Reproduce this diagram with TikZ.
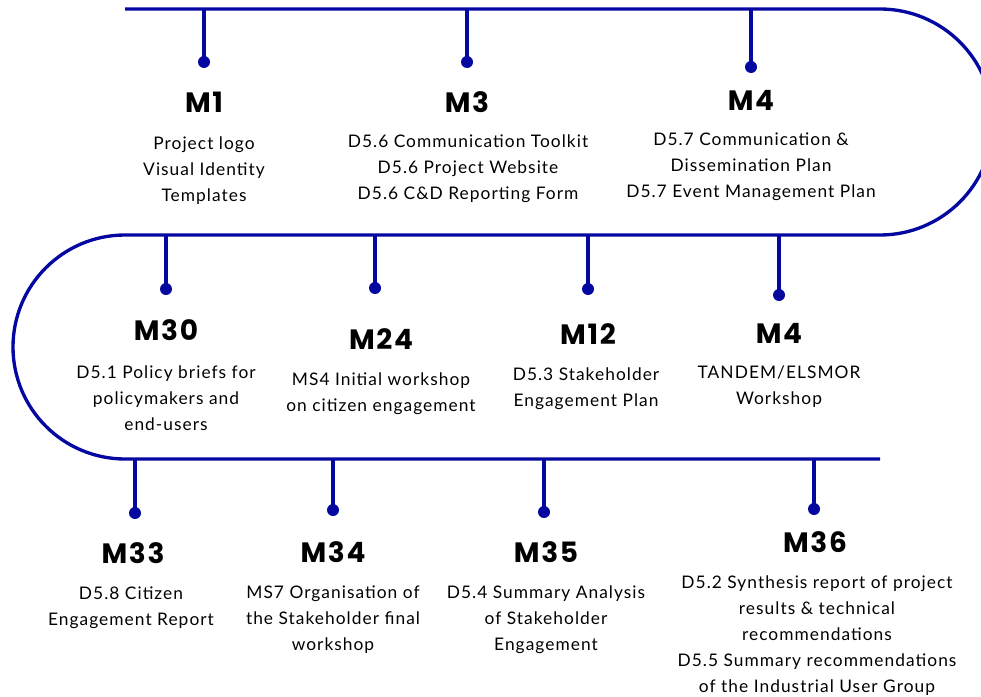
\documentclass[tikz,border=0pt]{standalone}
\usepackage{fontspec}
\setmainfont{Lato}[LetterSpace=6]
\newfontfamily\titlefont{Poppins}[LetterSpace=6]
\definecolor{tl}{RGB}{4,8,160}
\begin{document}
\begin{tikzpicture}[x=0.75pt,y=-0.75pt,
  tline/.style={draw=tl,line width=2.5pt},
  stem/.style={draw=tl,line width=2.5pt},
  dot/.style={circle,fill=tl,inner sep=0pt,minimum size=9pt},
  mtitle/.style={anchor=base,inner sep=0pt,font=\titlefont\bfseries\fontsize{21}{24}\selectfont},
  mbody/.style={anchor=center,inner sep=0pt,align=center,font=\fontsize{13}{19.5}\selectfont}]
\useasboundingbox (0,0) rectangle (981,696);
\clip (0,0) rectangle (981,696);
\coordinate (a) at (125,9);
\coordinate (b) at (880,9);
\coordinate (d) at (125,235);
\coordinate (f) at (880,459);
\draw[tline] (a) -- (b) arc[start angle=-90,end angle=90,radius=113] -- (d)
  arc[start angle=-90,end angle=-270,radius=112] -- (f);
% top row
\coordinate (s1) at (204,9);   \node[dot] (d1) at (204,62) {};
\coordinate (s2) at (467,9);   \node[dot] (d2) at (467,62) {};
\coordinate (s3) at (751,9);   \node[dot] (d3) at (751,67) {};
% middle row
\coordinate (s4) at (166,235); \node[dot] (d4) at (166,289) {};
\coordinate (s5) at (375,235); \node[dot] (d5) at (375,288) {};
\coordinate (s6) at (588,235); \node[dot] (d6) at (588,289) {};
\coordinate (s7) at (779,235); \node[dot] (d7) at (779,295) {};
% bottom row
\coordinate (s8) at (135,459); \node[dot] (d8) at (135,513) {};
\coordinate (s9) at (333,459); \node[dot] (d9) at (333,510) {};
\coordinate (s10) at (544,459); \node[dot] (d10) at (544,512) {};
\coordinate (s11) at (814,459); \node[dot] (d11) at (814,509) {};
\foreach \i in {1,...,11} {\draw[stem] (s\i) -- (d\i.center);}
% titles
\node[mtitle] (t1) at (204,112) {M1};
\node[mtitle] (t2) at (467,112) {M3};
\node[mtitle] (t3) at (751,110) {M4};
\node[mtitle] (t4) at (166,340) {M30};
\node[mtitle] (t5) at (381,349) {M24};
\node[mtitle] (t6) at (588,344) {M12};
\node[mtitle] (t7) at (779,343) {M4};
\node[mtitle] (t8) at (133,563) {M33};
\node[mtitle] (t9) at (333,562) {M34};
\node[mtitle] (t10) at (546,562) {M35};
\node[mtitle] (t11) at (815,552) {M36};
% bodies
\node[mbody] (b1) at (204,171) {Project logo\\Visual Identity\\Templates};
\node[mbody] (b2) at (468,169) {D5.6 Communication Toolkit\\D5.6 Project Website\\D5.6 C\&D Reporting Form};
\node[mbody] (b3) at (751,167) {D5.7 Communication \&\\Dissemination Plan\\D5.7 Event Management Plan};
\node[mbody] (b4) at (166,398) {D5.1 Policy briefs for\\policymakers and\\end-users};
\node[mbody] (b5) at (381,394) {MS4 Initial workshop\\on citizen engagement};
\node[mbody] (b6) at (586,389) {D5.3 Stakeholder\\Engagement Plan};
\node[mbody] (b7) at (779,387) {TANDEM/ELSMOR\\Workshop};
\node[mbody] (b8) at (131,608) {D5.8 Citizen\\Engagement Report};
\node[mbody] (b9) at (333,620) {MS7 Organisation of\\the Stakeholder final\\workshop};
\node[mbody] (b10) at (546,620) {D5.4 Summary Analysis\\of Stakeholder\\Engagement};
\node[mbody] (b11) at (817,636) {D5.2 Synthesis report of project\\results \& technical\\recommendations\\D5.5 Summary recommendations\\of the Industrial User Group};
\end{tikzpicture}
\end{document}
